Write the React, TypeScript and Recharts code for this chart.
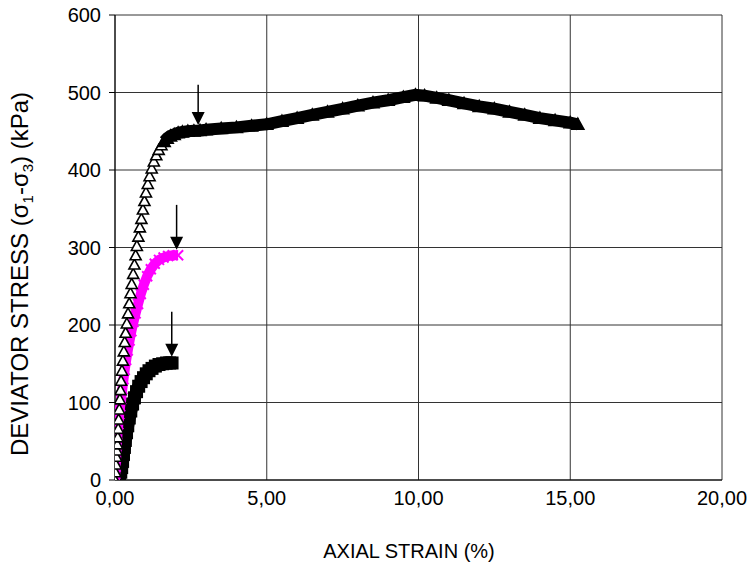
import React from 'react';
import { ScatterChart, Scatter, XAxis, YAxis, CartesianGrid, ReferenceLine } from 'recharts';

// Test at highest confining pressure (open triangles)
const triStrain = [0, 0.015, 0.03, 0.045, 0.06, 0.075, 0.09, 0.105, 0.12, 0.14, 0.16, 0.18, 0.2, 0.23, 0.26, 0.29, 0.32, 0.35, 0.39, 0.43, 0.47, 0.51, 0.55, 0.6, 0.64, 0.68, 0.72, 0.77, 0.82, 0.87, 0.92, 0.97, 1.02, 1.08, 1.14, 1.21, 1.28, 1.36, 1.44, 1.53, 1.62, 1.72, 1.83, 1.95, 2.08, 2.22, 2.4, 2.6, 2.8, 3.0, 3.5, 4.0, 4.5, 5.0, 5.5, 6.0, 6.5, 7.0, 7.5, 8.0, 8.5, 9.0, 9.5, 9.9, 10.2, 10.6, 11.0, 11.5, 12.0, 12.5, 13.0, 13.5, 14.0, 14.5, 15.0, 15.25];
const triStress = [0, 10, 20, 30, 38, 46, 55, 66, 78, 91, 104, 116, 128, 141, 154, 166, 178, 190, 202, 215, 228, 241, 253, 266, 278, 290, 302, 314, 326, 337, 349, 360, 371, 382, 392, 402, 411, 419, 426, 432, 437, 441, 444, 446, 448, 449, 450, 450.5, 451, 452, 453.5, 455, 457, 459, 463, 467, 471, 475, 479, 483, 487, 490, 494, 497, 496, 493, 490, 486, 482, 479, 475, 471, 467, 464, 461, 459];

// Middle test (magenta crosses)
const pinkStrain = [0, 0.01, 0.02, 0.04, 0.06, 0.08, 0.11, 0.14, 0.17, 0.2, 0.24, 0.28, 0.32, 0.37, 0.42, 0.48, 0.54, 0.61, 0.68, 0.76, 0.85, 0.95, 1.06, 1.18, 1.31, 1.45, 1.6, 1.75, 1.9, 2.08];
const pinkStress = [0, 8, 17, 30, 45, 58, 72, 85, 95, 104, 117, 130, 142, 155, 167, 180, 192, 204, 215, 227, 240, 252, 263, 272, 279, 284, 287, 289, 290, 290];

// Lowest test (filled squares)
const sqStrain = [0, 0.05, 0.1, 0.15, 0.19, 0.22, 0.25, 0.28, 0.31, 0.34, 0.38, 0.42, 0.47, 0.52, 0.58, 0.64, 0.71, 0.78, 0.86, 0.94, 1.03, 1.12, 1.22, 1.33, 1.45, 1.57, 1.7, 1.8, 1.88];
const sqStress = [0, 1, 3, 6, 10, 16, 24, 33, 42, 51, 61, 70, 80, 89, 98, 106, 114, 121, 127, 132, 137, 141, 144, 147, 149, 150, 151, 151, 151];

// Failure arrows
const arrowStrain = [2.74, 2.03, 1.87];
const arrowFrom = [510, 355, 217];
const arrowTo = [458, 297, 159];

const xTicks = [0, 5, 10, 15, 20];
const yTicks = [0, 100, 200, 300, 400, 500, 600];

const zip = (xs: number[], ys: number[]) => xs.map((x, i) => ({ x, y: ys[i] }));
const triData = zip(triStrain, triStress);
const triRising = triData.filter((d) => d.x < 1.6);
const triPlateau = triData.filter((d) => d.x >= 1.6);
const pinkData = zip(pinkStrain, pinkStress);
const sqData = zip(sqStrain, sqStress);

const FONT = '"Liberation Sans", Arial, sans-serif';

const OpenTriangle = (p: any) => {
  const { cx, cy } = p;
  return <path d={`M${cx},${cy - 5.5} L${cx + 5.5},${cy + 4.5} L${cx - 5.5},${cy + 4.5} Z`} fill="#fff" stroke="#000" strokeWidth={1.6} />;
};
const FilledTriangle = (p: any) => {
  const { cx, cy } = p;
  return <path d={`M${cx},${cy - 6} L${cx + 6},${cy + 5} L${cx - 6},${cy + 5} Z`} fill="#000" stroke="#000" strokeWidth={1.6} />;
};
const Cross = (p: any) => {
  const { cx, cy } = p;
  return <path d={`M${cx - 5},${cy - 5} L${cx + 5},${cy + 5} M${cx + 5},${cy - 5} L${cx - 5},${cy + 5}`} stroke="#FF00FF" strokeWidth={2} fill="none" />;
};
const Square = (p: any) => {
  const { cx, cy } = p;
  return <rect x={cx - 6.5} y={cy - 6.5} width={13} height={13} fill="#000" />;
};

const Arrow = (p: any) => {
  const { x1, y1, x2, y2 } = p;
  return (
    <g>
      <line x1={x1} y1={y1} x2={x2} y2={y2 - 10} stroke="#000" strokeWidth={1.5} />
      <path d={`M${x2 - 6.5},${y2 - 13} L${x2 + 6.5},${y2 - 13} L${x2},${y2} Z`} fill="#000" />
    </g>
  );
};

const YTitle = () => (
  <text transform="rotate(-90)" x={-274} y={28} textAnchor="middle" fontFamily={FONT} fontSize={24} fill="#000">
    DEVIATOR STRESS (σ<tspan dy={5} fontSize={15}>1</tspan><tspan dy={-5}>-σ</tspan><tspan dy={5} fontSize={15}>3</tspan><tspan dy={-5}>) (kPa)</tspan>
  </text>
);

const XTitle = () => (
  <text x={409} y={558} textAnchor="middle" fontFamily={FONT} fontSize={20} fill="#000">
    AXIAL STRAIN (%)
  </text>
);

export default function App() {
  return (
    <div style={{ position: 'absolute', left: 0, top: 0, background: '#fff' }}>
      <ScatterChart width={755} height={572} margin={{ top: 15, right: 33, bottom: 32, left: 0 }}>
        <CartesianGrid stroke="#333" strokeWidth={1} />
        <XAxis
          type="number"
          dataKey="x"
          domain={[0, 20]}
          ticks={xTicks}
          allowDataOverflow
          height={60}
          stroke="#000"
          tickLine={false}
          tickSize={4}
          tickMargin={7}
          tickFormatter={(v: number) => v.toFixed(2).replace('.', ',')}
          tick={{ fill: '#000', fontSize: 20, fontFamily: FONT }}
          label={{ content: XTitle }}
        />
        <YAxis
          type="number"
          dataKey="y"
          domain={[0, 600]}
          ticks={yTicks}
          allowDataOverflow
          width={115}
          stroke="#000"
          tickSize={6}
          tickMargin={8}
          tick={{ fill: '#000', fontSize: 20, fontFamily: FONT }}
          label={{ content: YTitle }}
        />
        <Scatter data={sqData} shape={Square} line={{ stroke: '#000', strokeWidth: 13 }} isAnimationActive={false} legendType="none" />
        <Scatter data={pinkData} shape={Cross} line={{ stroke: '#FF00FF', strokeWidth: 10 }} isAnimationActive={false} legendType="none" />
        <Scatter data={triRising} shape={OpenTriangle} isAnimationActive={false} legendType="none" />
        <Scatter data={triPlateau} shape={FilledTriangle} line={{ stroke: '#000', strokeWidth: 12 }} isAnimationActive={false} legendType="none" />
        {arrowStrain.map((s, i) => (
          <ReferenceLine
            key={i}
            segment={[{ x: s, y: arrowFrom[i] }, { x: s, y: arrowTo[i] }]}
            shape={Arrow}
            ifOverflow="visible"
          />
        ))}
      </ScatterChart>
    </div>
  );
}
